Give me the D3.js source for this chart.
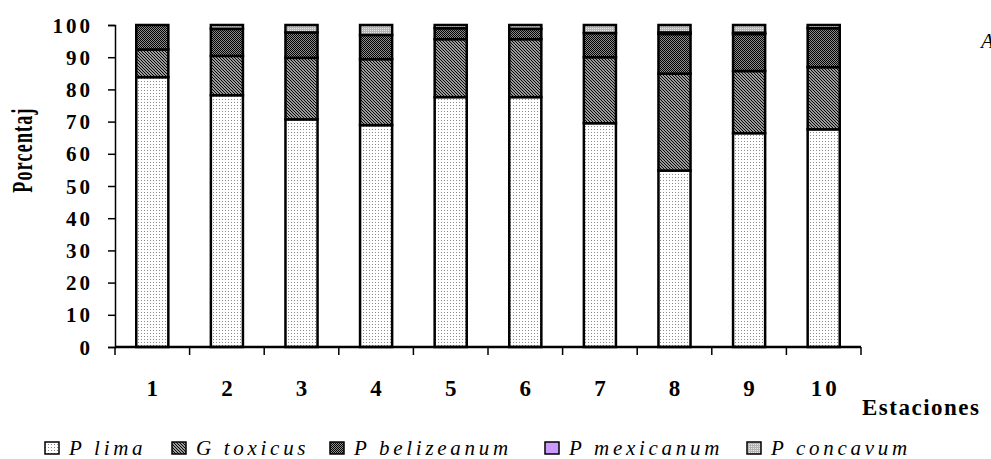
<!DOCTYPE html>
<html>
<head>
<meta charset="utf-8">
<script src="https://cdn.jsdelivr.net/npm/d3@7"></script>
<style>
  body { margin: 0; background: #fff; }
  svg { display: block; }
  text { font-family: "Liberation Serif", "Times New Roman", serif; fill: #000; }
</style>
</head>
<body>
<div id="chart"></div>
<script>
// station labels and species percentages
const stations = ["1", "2", "3", "4", "5", "6", "7", "8", "9", "10"];
const lima       = [83.8, 78.2, 70.7, 68.9, 77.6, 77.6, 69.5, 54.8, 66.4, 67.6];
const toxicus    = [8.6, 12.2, 19.1, 20.5, 18.0, 18.0, 20.5, 30.1, 19.3, 19.3];
const belizeanum = [7.6, 8.4, 7.9, 7.5, 3.4, 3.2, 7.5, 12.3, 11.5, 12.1];
const mexicanum  = [0, 0, 0, 0, 0, 0, 0, 0.5, 0.4, 0];
const concavum   = [0, 1.2, 2.3, 3.1, 1.0, 1.2, 2.5, 2.3, 2.4, 1.0];
const seriesNames = ["P lima", "G toxicus", "P belizeanum", "P mexicanum", "P concavum"];
const yTicks = [0, 10, 20, 30, 40, 50, 60, 70, 80, 90, 100];

const width = 991, height = 459;
const svg = d3.select("#chart").append("svg")
  .attr("width", width)
  .attr("height", height);

// fill patterns, like the old Excel ones
const defs = svg.append("defs");

const pLima = defs.append("pattern").attr("id", "p0")
  .attr("width", 3).attr("height", 3).attr("patternUnits", "userSpaceOnUse");
pLima.append("rect").attr("width", 3).attr("height", 3).attr("fill", "#fff");
pLima.append("rect").attr("width", 1).attr("height", 1).attr("fill", "#8a8a8a");

const pTox = defs.append("pattern").attr("id", "p1")
  .attr("width", 3).attr("height", 3).attr("patternUnits", "userSpaceOnUse");
pTox.append("rect").attr("width", 3).attr("height", 3).attr("fill", "#e0e0e0");
pTox.append("path").attr("d", "M0,0L3,3M-1,2L1,4M2,-1L4,1")
  .attr("stroke", "#000").attr("stroke-width", 1.2);

const pBel = defs.append("pattern").attr("id", "p2")
  .attr("width", 2).attr("height", 2).attr("patternUnits", "userSpaceOnUse");
pBel.append("rect").attr("width", 2).attr("height", 2).attr("fill", "#8c8c8c");
pBel.append("rect").attr("width", 1).attr("height", 1).attr("fill", "#000");
pBel.append("rect").attr("x", 1).attr("y", 1).attr("width", 1).attr("height", 1).attr("fill", "#000");

defs.append("pattern").attr("id", "p3")
  .attr("width", 2).attr("height", 2).attr("patternUnits", "userSpaceOnUse")
  .append("rect").attr("width", 2).attr("height", 2).attr("fill", "#cc99ff");

const pCon = defs.append("pattern").attr("id", "p4")
  .attr("width", 2).attr("height", 2).attr("patternUnits", "userSpaceOnUse");
pCon.append("rect").attr("width", 2).attr("height", 2).attr("fill", "#b4b4b4");
pCon.append("rect").attr("width", 1).attr("height", 1).attr("fill", "#e6e6e6");

const fills = ["url(#p0)", "url(#p1)", "url(#p2)", "url(#p3)", "url(#p4)"];

// scales
const x = d3.scaleBand().domain(stations)
  .range([115, 861])
  .paddingInner(0.57)
  .paddingOuter(0.285);
const y = d3.scaleLinear().domain([0, 100]).range([347, 25]);

// stack the data
const rows = stations.map((s, i) => ({
  station: s,
  "P lima": lima[i],
  "G toxicus": toxicus[i],
  "P belizeanum": belizeanum[i],
  "P mexicanum": mexicanum[i],
  "P concavum": concavum[i]
}));
const stacked = d3.stack().keys(seriesNames)(rows);

svg.append("g")
  .selectAll("g")
  .data(stacked)
  .join("g")
  .attr("fill", (d, i) => fills[i])
  .selectAll("rect")
  .data(d => d.filter(p => p[1] - p[0] > 0))
  .join("rect")
  .attr("x", d => x(d.data.station))
  .attr("width", x.bandwidth())
  .attr("y", d => y(d[1]))
  .attr("height", d => y(d[0]) - y(d[1]))
  .attr("stroke", "#000")
  .attr("stroke-width", 2.5);

// y axis
const yAxis = svg.append("g")
  .attr("transform", "translate(115,0)")
  .call(d3.axisLeft(y).tickValues(yTicks).tickSize(7).tickPadding(15));
yAxis.select(".domain").attr("stroke", "#000").attr("stroke-width", 1.5);
yAxis.selectAll(".tick line").attr("stroke-width", 1.5);
yAxis.selectAll(".tick text")
  .attr("font-family", "Liberation Serif, serif")
  .attr("font-size", 21)
  .attr("font-weight", "bold")
  .attr("letter-spacing", 3)
  .attr("dy", "0.34em");

// x axis: line plus ticks at band edges
const step = x.step();
const edges = d3.range(stations.length + 1).map(i => 115 + i * step);
svg.append("line")
  .attr("x1", 115).attr("x2", 861)
  .attr("y1", y(0)).attr("y2", y(0))
  .attr("stroke", "#000").attr("stroke-width", 2.5);
svg.append("g").selectAll("line")
  .data(edges)
  .join("line")
  .attr("x1", d => d).attr("x2", d => d)
  .attr("y1", y(0)).attr("y2", y(0) + 8)
  .attr("stroke", "#000").attr("stroke-width", 1.5);

svg.append("g").selectAll("text")
  .data(stations)
  .join("text")
  .attr("x", d => x(d) + x.bandwidth() / 2 + 1.5)
  .attr("y", 396)
  .attr("text-anchor", "middle")
  .attr("font-size", 23)
  .attr("font-weight", "bold")
  .attr("letter-spacing", 3)
  .text(d => d);

// axis titles
svg.append("text")
  .attr("transform", "translate(32,150) rotate(-90) scale(0.6,1)")
  .attr("text-anchor", "middle")
  .attr("font-size", 30)
  .attr("font-weight", "bold")
  .attr("letter-spacing", 2)
  .text("Porcentaj");

svg.append("text")
  .attr("x", 862)
  .attr("y", 415)
  .attr("font-size", 23)
  .attr("font-weight", "bold")
  .attr("letter-spacing", 1.5)
  .text("Estaciones");

// cut-off title letter at the right edge
svg.append("text")
  .attr("x", 981)
  .attr("y", 48)
  .attr("font-size", 21)
  .attr("font-style", "italic")
  .text("A");

// legend
const legendX = [45, 172, 330, 545, 747];
const legend = svg.append("g").selectAll("g")
  .data(seriesNames)
  .join("g")
  .attr("transform", (d, i) => `translate(${legendX[i]},0)`);
legend.append("rect")
  .attr("x", 0).attr("y", 442)
  .attr("width", 14).attr("height", 12)
  .attr("fill", (d, i) => fills[i])
  .attr("stroke", "#000").attr("stroke-width", 1.5);
legend.append("text")
  .attr("x", 24)
  .attr("y", 455)
  .attr("font-size", 21)
  .attr("font-style", "italic")
  .attr("letter-spacing", 3.7)
  .text(d => d);
</script>
</body>
</html>
